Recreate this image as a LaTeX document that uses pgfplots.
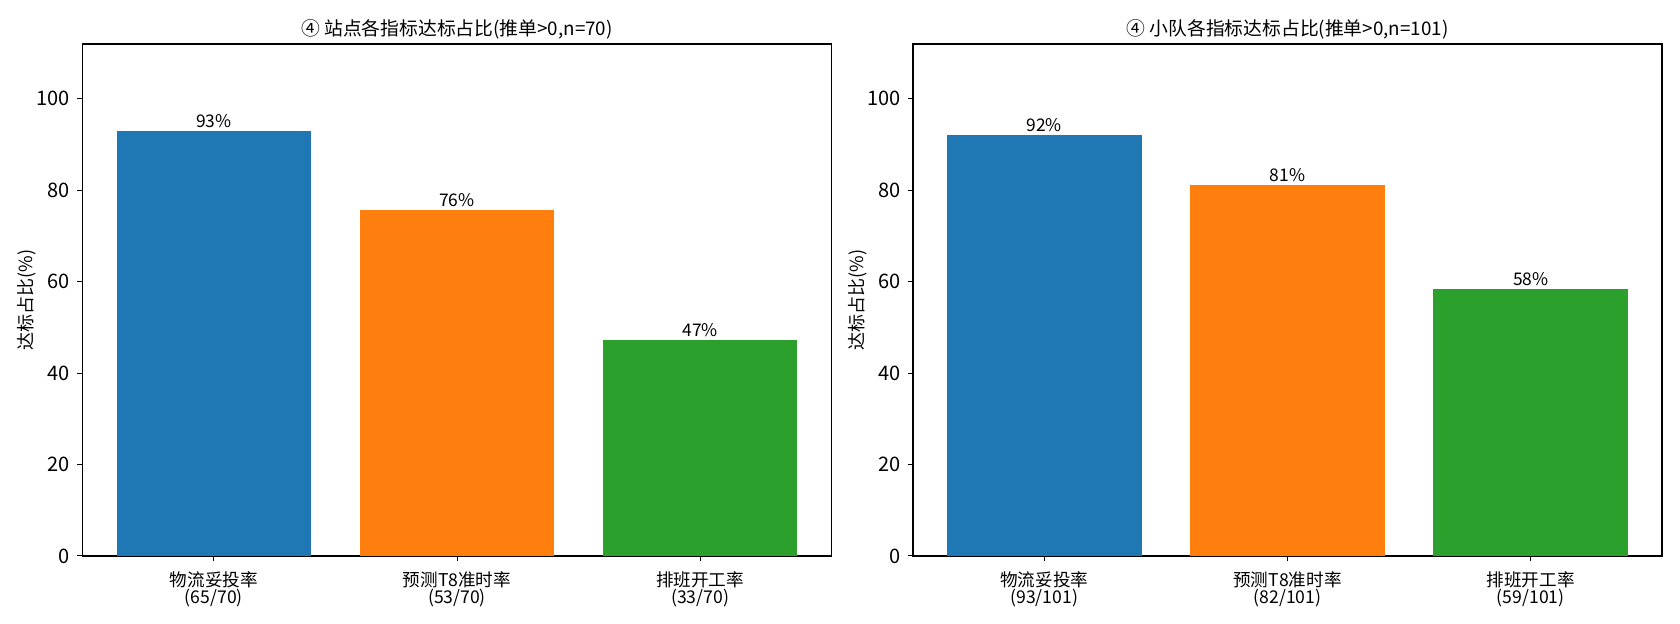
\documentclass[border=0pt]{standalone}
\usepackage{fontspec}
\setmainfont{Noto Sans CJK SC}
\usepackage{pgfplots}
\pgfplotsset{compat=1.18}
\definecolor{tabblue}{HTML}{1F77B4}
\definecolor{taborange}{HTML}{FF7F0E}
\definecolor{tabgreen}{HTML}{2CA02C}
\pgfplotsset{
  mybars/.style={
    scale only axis, width=374.5pt, height=256pt,
    anchor=south west,
    xmin=-0.54, xmax=2.54, ymin=0, ymax=112,
    ytick={0,20,40,60,80,100},
    xtick={0,1,2},
    tick align=outside, xtick pos=bottom, ytick pos=left,
    major tick length=2.7pt,
    tick style={black, line width=0.5pt},
    axis line style={black, line width=0.6pt},
    /pgf/number format/assume math mode=true,
    yticklabel style={font=\fontsize{10}{11}\selectfont},
    xticklabel style={align=center, font=\fontsize{8.8}{8.4}\selectfont, yshift=-1.5pt},
    ylabel={达标占比(\%)},
    ylabel style={at={(axis description cs:-0.074,0.5)}, anchor=center, font=\fontsize{9}{10}\selectfont},
    title style={font=\fontsize{9.4}{10}\selectfont, yshift=-7pt},
    nodes near coords={\pgfplotspointmeta},
    point meta=explicit symbolic,
    every node near coord/.append style={font=\fontsize{8.7}{10}\selectfont, inner sep=1.5pt, black},
  },
  barstyle/.style={ybar, bar width=0.8, bar shift=0pt, draw=none, fill=#1},
}
\begin{document}
\begin{tikzpicture}
\path[use as bounding box] (0,0) rectangle (840pt,312pt);
\begin{axis}[mybars, at={(41.25pt,34pt)},
  title={④ 站点各指标达标占比(推单>0,n=70)},
  xticklabels={物流妥投率\\(65/70), 预测T8准时率\\(53/70), 排班开工率\\(33/70)}]
\addplot[barstyle=tabblue] coordinates {(0,92.86) [93\%]};
\addplot[barstyle=taborange] coordinates {(1,75.71) [76\%]};
\addplot[barstyle=tabgreen] coordinates {(2,47.14) [47\%]};
\end{axis}
\begin{axis}[mybars, at={(456.5pt,34pt)},
  title={④ 小队各指标达标占比(推单>0,n=101)},
  xticklabels={物流妥投率\\(93/101), 预测T8准时率\\(82/101), 排班开工率\\(59/101)}]
\addplot[barstyle=tabblue] coordinates {(0,92.08) [92\%]};
\addplot[barstyle=taborange] coordinates {(1,81.19) [81\%]};
\addplot[barstyle=tabgreen] coordinates {(2,58.42) [58\%]};
\end{axis}
\end{tikzpicture}
\end{document}
